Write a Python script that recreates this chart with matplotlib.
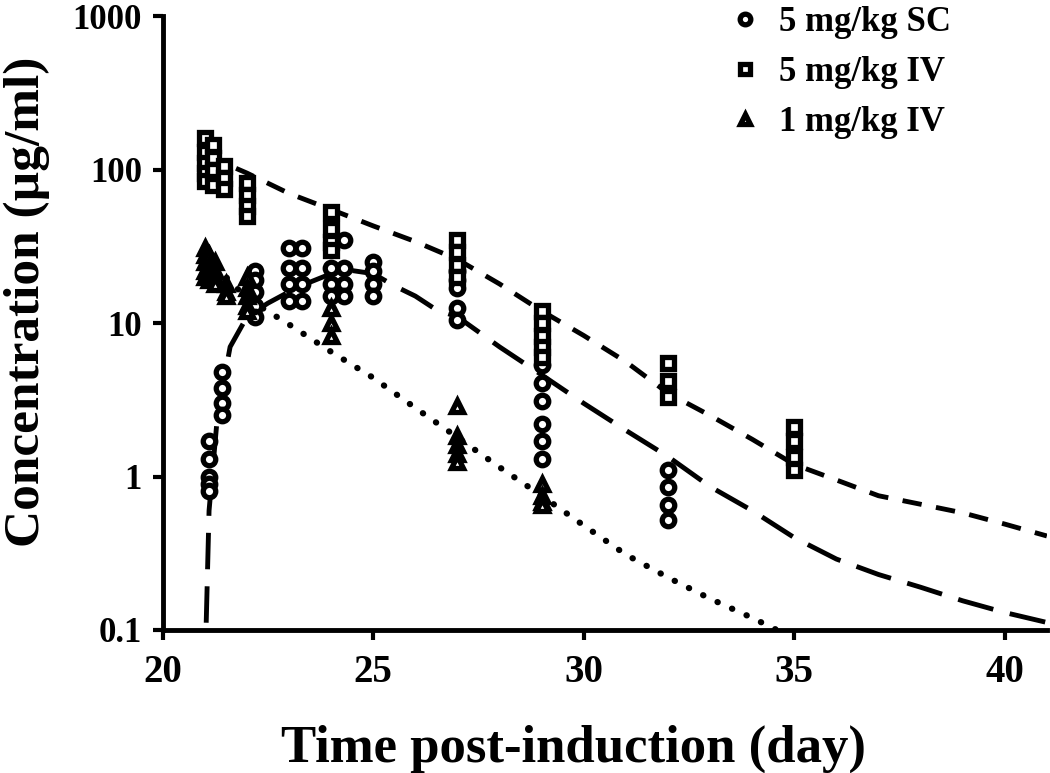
import matplotlib
matplotlib.use("Agg")
import matplotlib.pyplot as plt
from matplotlib.ticker import FixedLocator, NullLocator

plt.rcParams['font.family'] = ['Liberation Serif', 'DejaVu Serif']
plt.rcParams['font.weight'] = 'bold'

# observed data: 5 mg/kg SC (circles)
sc_day = [21.1, 21.1, 21.1, 21.1, 21.1,
          21.4, 21.4, 21.4, 21.4,
          22.2, 22.2, 22.2, 22.2, 22.2,
          23.0, 23.0, 23.0, 23.0,
          23.3, 23.3, 23.3, 23.3,
          24.0, 24.0, 24.0,
          24.3, 24.3, 24.3, 24.3,
          25.0, 25.0, 25.0, 25.0,
          27.0, 27.0, 27.0, 27.0, 27.0,
          29.0, 29.0, 29.0, 29.0, 29.0, 29.0,
          32.0, 32.0, 32.0, 32.0]
sc_conc = [1.7, 1.3, 1.0, 0.9, 0.8,
           4.8, 3.8, 3.0, 2.5,
           22, 19, 16, 13, 11,
           31, 23, 18, 14,
           31, 23, 18, 14,
           23, 18, 15,
           35, 23, 18, 15,
           25, 22, 18, 15,
           22, 19, 17, 12.5, 10.5,
           5.3, 4.1, 3.1, 2.2, 1.7, 1.3,
           1.1, 0.85, 0.65, 0.52]

# observed data: 5 mg/kg IV (squares)
iv5_day = [21.0, 21.0, 21.0, 21.0, 21.0,
           21.2, 21.2, 21.2, 21.2,
           21.45, 21.45, 21.45,
           22.0, 22.0, 22.0, 22.0,
           24.0, 24.0, 24.0, 24.0,
           27.0, 27.0, 27.0, 27.0,
           29.0, 29.0, 29.0, 29.0, 29.0,
           32.0, 32.0, 32.0,
           35.0, 35.0, 35.0, 35.0]
iv5_conc = [160, 130, 110, 95, 85,
            145, 120, 100, 80,
            105, 88, 75,
            82, 68, 58, 50,
            53, 41, 34, 30,
            35, 29, 24, 20,
            12, 10, 8.2, 7, 6,
            5.5, 4.2, 3.3,
            2.1, 1.7, 1.35, 1.1]

# observed data: 1 mg/kg IV (triangles)
iv1_day = [21.0, 21.0, 21.0, 21.0, 21.0,
           21.1, 21.1, 21.1, 21.1,
           21.25, 21.25, 21.25, 21.25,
           21.5, 21.5, 21.5,
           22.0, 22.0, 22.0, 22.0, 22.0,
           24.0, 24.0, 24.0,
           27.0, 27.0, 27.0, 27.0, 27.0,
           29.0, 29.0, 29.0, 29.0]
iv1_conc = [31, 28, 25, 22, 20,
            28, 24, 21, 19,
            25, 22, 20, 18,
            18, 16, 15,
            20, 17, 15, 13, 12,
            12.5, 10, 8.3,
            2.9, 1.85, 1.6, 1.4, 1.25,
            0.9, 0.75, 0.68, 0.65]

# model predictions
fit_iv5_day = [21, 22, 23, 24, 25, 26, 27, 28, 29, 30, 31, 32, 33, 34, 35, 36, 37,
               38, 39, 40, 41]
fit_iv5_conc = [125, 95, 70, 55, 43, 34, 26, 18, 12, 8.3, 5.6, 3.5, 2.5, 1.75, 1.2,
                0.95, 0.75, 0.66, 0.58, 0.49, 0.41]

fit_sc_day = [21.0, 21.1, 21.3, 21.6, 22, 22.5, 23, 23.5, 24, 24.5, 25, 25.5, 26,
              26.5, 27, 28, 29, 30, 31, 32, 33, 34, 35, 36, 37, 38, 39, 40, 41]
fit_sc_conc = [0.05, 0.6, 2.5, 7, 11, 13.5, 16, 18.5, 21, 22, 21, 17.5, 15,
               12.2, 11, 7, 4.6, 3.0, 2.0, 1.35, 0.86, 0.6, 0.40, 0.29, 0.23, 0.19,
               0.155, 0.13, 0.112]

fit_iv1_day = [21, 21.5, 22, 23, 24, 25, 26, 27, 28, 29, 30, 31, 32, 33, 34, 35, 36]
fit_iv1_conc = [28, 20, 14.5, 9.8, 6.5, 4.4, 2.8, 1.8, 1.15, 0.75, 0.48, 0.31, 0.22,
                0.16, 0.12, 0.088, 0.065]

legend_labels = ['5 mg/kg SC', '5 mg/kg IV', '1 mg/kg IV']

fig = plt.figure(figsize=(10.5, 7.73), dpi=100)
ax = fig.add_axes([0.155, 0.185, 0.842, 0.794])

lw = 3.5
l1, = ax.plot(fit_iv5_day, fit_iv5_conc, color='black', lw=lw, dashes=(4, 3))
l2, = ax.plot(fit_sc_day, fit_sc_conc, color='black', lw=lw, dashes=(7.5, 3.5))
l3, = ax.plot(fit_iv1_day, fit_iv1_conc, color='black', lw=4.5, dashes=(0.05, 2.5),
              dash_capstyle='round')

mk = dict(linestyle='none', mfc='white', mec='black', ms=9, mew=3.8)
p1, = ax.plot(sc_day, sc_conc, marker='o', **mk)
p3, = ax.plot(iv1_day, iv1_conc, marker='^', **mk)
p2, = ax.plot(iv5_day, iv5_conc, marker='s', **mk)

ax.set_yscale('log')
ax.set_xlim(20, 41)
ax.set_ylim(0.1, 1000)
ax.xaxis.set_major_locator(FixedLocator([20, 25, 30, 35, 40]))
ax.yaxis.set_major_locator(FixedLocator([0.1, 1, 10, 100, 1000]))
ax.yaxis.set_minor_locator(NullLocator())
ax.set_yticklabels(['0.1', '1', '10', '100', '1000'])

for s in ['top', 'right']:
    ax.spines[s].set_visible(False)
for s in ['left', 'bottom']:
    ax.spines[s].set_linewidth(3.5)
ax.tick_params(axis='both', which='major', length=7, width=3, pad=8)
ax.tick_params(axis='x', labelsize=28, pad=10)
ax.tick_params(axis='y', labelsize=25)
for t in ax.get_xticklabels() + ax.get_yticklabels():
    t.set_fontweight('bold')

ax.set_xlabel('Time post-induction (day)', fontsize=38, fontweight='bold')
ax.set_ylabel('Concentration (\u00b5g/ml)', fontsize=37, fontweight='bold')
ax.xaxis.set_label_coords(0.465, -0.155)
ax.yaxis.set_label_coords(-0.127, 0.534)

ax.legend([p1, p2, p3], legend_labels, loc='upper left', bbox_to_anchor=(0.605, 1.068),
          frameon=False, prop={'family': 'Liberation Serif', 'weight': 'bold', 'size': 25},
          handlelength=0.9, handletextpad=0.55, labelspacing=0.5, markerscale=0.85)

plt.savefig('out.png', dpi=100)
